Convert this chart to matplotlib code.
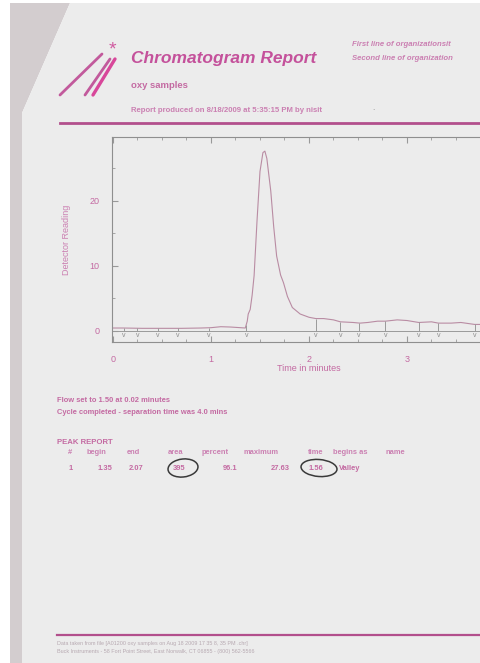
import matplotlib
matplotlib.use("Agg")
import matplotlib.pyplot as plt
import numpy as np
from matplotlib.lines import Line2D
from matplotlib.patches import Polygon, Ellipse
from matplotlib.ticker import MultipleLocator

plt.rcParams['font.family'] = ['Liberation Sans', 'DejaVu Sans']

# detector trace (minutes, reading)
time_min = [0.0, 0.1, 0.3, 0.5, 0.7, 0.9, 1.0, 1.1, 1.2, 1.3, 1.35, 1.37, 1.38, 1.40,
            1.42, 1.44, 1.47, 1.50, 1.53, 1.55, 1.57, 1.61, 1.64, 1.67, 1.71, 1.74,
            1.78, 1.83, 1.91, 2.0, 2.07, 2.15, 2.25, 2.32, 2.45, 2.52, 2.6, 2.7, 2.78,
            2.9, 3.0, 3.12, 3.25, 3.32, 3.45, 3.55, 3.69, 3.85, 4.0]
reading = [0.45, 0.45, 0.4, 0.4, 0.4, 0.45, 0.5, 0.65, 0.6, 0.5, 0.45, 1.5, 2.6, 3.3,
           5.5, 8.5, 17.0, 24.5, 27.4, 27.63, 26.5, 21.5, 16.0, 11.5, 8.6, 7.4,
           5.3, 3.6, 2.6, 2.1, 1.9, 1.9, 1.7, 1.4, 1.3, 1.2, 1.3, 1.5, 1.5,
           1.7, 1.6, 1.3, 1.4, 1.2, 1.2, 1.3, 1.0, 1.0, 0.9]

# valley / baseline marks
valley_times = [0.11, 0.25, 0.46, 0.66, 0.98, 1.36, 2.07, 2.32, 2.51, 2.78, 3.12, 3.32, 3.69]

x_labelled = [0, 1, 2, 3]

# peak table
peak_cols = ["#", "begin", "end", "area", "percent", "maximum", "time", "begins as", "name"]
peak_row = ["1", "1.35", "2.07", "395", "96.1", "27.63", "1.56", "Valley", ""]

W, H = 480, 663
PINK = "#c4519b"
TXT = "#c46aa2"
LIGHT = "#cb80b2"


def fx(x):
    return x / W


def fy(y):
    return 1 - y / H


fig = plt.figure(figsize=(4.8, 6.63), dpi=100, facecolor="white")

# scanned page: grey strip on the left with the clipped corner
fig.add_artist(Polygon([(fx(10), fy(663)), (fx(10), fy(3)), (fx(70), fy(3)),
                        (fx(22), fy(113)), (fx(22), fy(663))],
                       closed=True, transform=fig.transFigure,
                       facecolor="#d3cdcf", edgecolor="none", zorder=0))
fig.add_artist(Polygon([(fx(22), fy(663)), (fx(22), fy(113)), (fx(70), fy(3)),
                        (fx(480), fy(3)), (fx(480), fy(663))],
                       closed=True, transform=fig.transFigure,
                       facecolor="#ececec", edgecolor="none", zorder=0))

# logo strokes + asterisk
for (x0, y0, x1, y1, c, lw) in [(60, 95, 102, 54, "#c25a9c", 2.0),
                                (85, 95, 110, 59, "#c25a9c", 2.0),
                                (93, 95, 115, 59, "#d8479a", 2.4)]:
    fig.add_artist(Line2D([fx(x0), fx(x1)], [fy(y0), fy(y1)], transform=fig.transFigure,
                          color=c, lw=lw, solid_capstyle="round"))
fig.text(fx(112), fy(50), "*", color="#d05aa0", fontsize=14, ha="center", va="center")

# header
fig.text(fx(131), fy(58), "Chromatogram Report", color=PINK, fontsize=12.5,
         fontweight="bold", fontstyle="italic", va="center")
fig.text(fx(352), fy(45), "First line of organizationsit", color=LIGHT, fontsize=5.6,
         fontweight="bold", fontstyle="italic", va="center")
fig.text(fx(352), fy(58), "Second line of organization", color=LIGHT, fontsize=5.6,
         fontweight="bold", fontstyle="italic", va="center")
fig.text(fx(131), fy(85), "oxy samples", color=TXT, fontsize=6.8, fontweight="bold",
         va="center")
fig.text(fx(131), fy(110), "Report produced on 8/18/2009 at 5:35:15 PM by nisit",
         color=LIGHT, fontsize=5.6, fontweight="bold", va="center")
fig.text(fx(372), fy(108), ".", color="#888", fontsize=6, va="center")
fig.add_artist(Line2D([fx(60), fx(480)], [fy(123), fy(123)], transform=fig.transFigure,
                      color="#b24f8c", lw=2.0))

# chromatogram axes (right edge runs past the crop)
ax = fig.add_axes([fx(112), fy(342), (505 - 112) / W, (342 - 137) / H])
ax.set_facecolor("#ececec")
ax.plot(time_min, reading, color="#b98ca3", lw=0.8)
ax.axhline(0, color="#9a9a9a", lw=0.7)
drop = np.interp(valley_times, time_min, reading)
ax.vlines(valley_times, 0, drop, color="#9a9a9a", lw=0.7)
for t in valley_times:
    ax.text(t, -0.75, "v", color="#8c8c8c", fontsize=5, ha="center", va="center")

ax.set_xlim(-0.01, 4.0)
ax.set_ylim(-1.7, 29.8)
ax.set_xticks(x_labelled)
ax.xaxis.set_minor_locator(MultipleLocator(0.25))
ax.yaxis.set_major_locator(MultipleLocator(10))
ax.yaxis.set_minor_locator(MultipleLocator(5))
ax.tick_params(which="both", direction="in", top=True, right=True, color="#999999",
               labelcolor=TXT, labelsize=6.5)
ax.tick_params(which="major", length=4)
ax.tick_params(which="minor", length=2.5)
ax.tick_params(axis="x", pad=9)
ax.tick_params(axis="y", pad=9)
for s in ax.spines.values():
    s.set_color("#8f8f8f")
    s.set_linewidth(0.8)
ax.set_xlabel("Time in minutes", color=TXT, fontsize=6.5, labelpad=0)
ax.set_ylabel("Detector Reading", color=LIGHT, fontsize=6.5, labelpad=13)

# notes under the chart
fig.text(fx(57), fy(400), "Flow set to 1.50 at 0.02 minutes", color=TXT, fontsize=5.4,
         fontweight="bold", va="center")
fig.text(fx(57), fy(413), "Cycle completed - separation time was 4.0 mins", color=TXT,
         fontsize=5.4, fontweight="bold", va="center")
fig.text(fx(57), fy(442), "PEAK REPORT", color=TXT, fontsize=5.6, fontweight="bold",
         va="center")

head_x = [68, 87, 127, 168, 202, 244, 308, 333, 385]
row_x = [73, 112, 143, 185, 237, 290, 323, 339, None]
row_ha = ["right", "right", "right", "right", "right", "right", "right", "left", "left"]
for name, x in zip(peak_cols, head_x):
    fig.text(fx(x), fy(452), name, color=LIGHT, fontsize=5.4, fontweight="bold",
             va="center")
for val, x, ha in zip(peak_row, row_x, row_ha):
    if x is not None:
        fig.text(fx(x), fy(468), val, color=TXT, fontsize=5.4, fontweight="bold",
                 ha=ha, va="center")

# pen circles round area and time
for cx, cy, w, h, ang in [(183, 468, 30, 18, 4), (319, 468, 36, 17, -3)]:
    fig.add_artist(Ellipse((fx(cx), fy(cy)), w / W, h / H, angle=ang,
                           transform=fig.transFigure, fill=False,
                           edgecolor="#3a3a3a", lw=1.1))

# footer
fig.add_artist(Line2D([fx(57), fx(480)], [fy(635), fy(635)], transform=fig.transFigure,
                      color="#b24f8c", lw=1.6))
fig.text(fx(57), fy(643), "Data taken from file [A01200 oxy samples on Aug 18 2009 17 35 8, 35 PM .chr]",
         color="#b7a9b1", fontsize=3.9, va="center")
fig.text(fx(57), fy(652), "Buck Instruments - 58 Fort Point Street, East Norwalk, CT 06855 - (800) 562-5566",
         color="#b7a9b1", fontsize=3.9, va="center")

fig.savefig("out.png", dpi=100, facecolor="white")
